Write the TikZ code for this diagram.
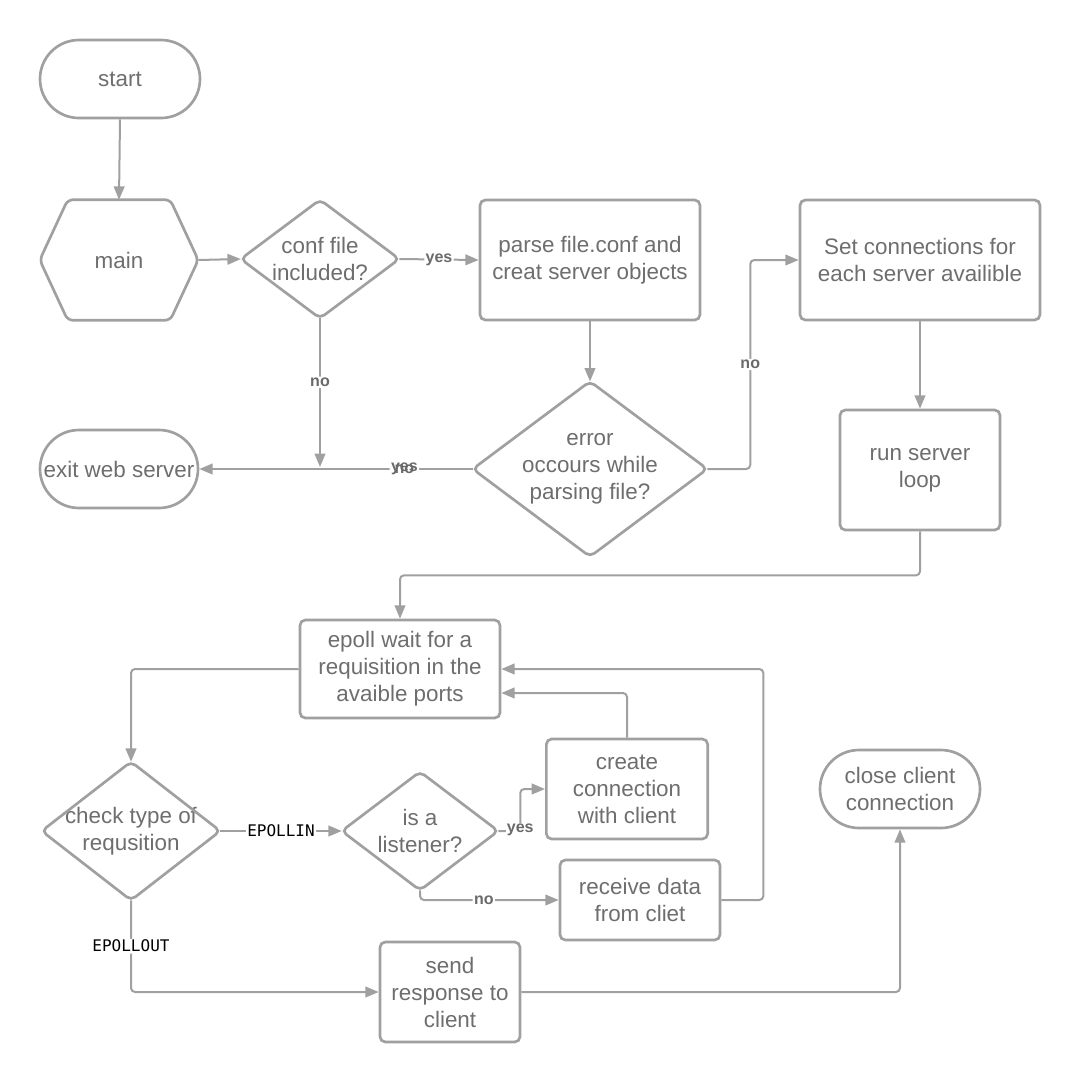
\documentclass[tikz,border=0pt]{standalone}
\usepackage{fontspec}
\setmainfont{Liberation Sans}
\newfontfamily\monof{DejaVu Sans Mono}
\usetikzlibrary{arrows.meta,shapes.misc,calc}
\definecolor{ln}{HTML}{A0A0A0}
\definecolor{tx}{HTML}{6E6E6E}
\definecolor{lb}{HTML}{6A6A6A}
\begin{document}
\begin{tikzpicture}[x=0.75pt,y=-0.75pt,
  every node/.style={font=\fontsize{16.8}{20.25}\selectfont, text=tx, align=center},
  box/.style={draw=ln, line width=2pt, rounded corners=4pt, inner sep=0pt},
  pill/.style={rounded rectangle, draw=ln, line width=2pt, inner sep=0pt},
  base/.style={draw=none, inner sep=0pt},
  shp/.style={draw=ln, line width=2pt, rounded corners=4pt},
  conn/.style={draw=ln, line width=1.5pt, -{Triangle[length=10pt,width=8pt]}, rounded corners=3pt},
  plain/.style={draw=ln, line width=1.5pt, rounded corners=3pt},
  lab/.style={font=\bfseries\fontsize{12}{14}\selectfont, text=lb, fill=white, inner sep=1pt},
  mono/.style={font=\monof\fontsize{12}{14}\selectfont, text=black, fill=white, inner sep=1pt}
]
\fill[white] (0,0) rectangle (1080,1083);
\useasboundingbox (0,0) rectangle (1080,1083);

% nodes
\node[pill, minimum width=120pt, minimum height=58.5pt] (start) at (120,79) {start};
\node[base, minimum width=118.5pt, minimum height=90pt] (main) at (119,260) {main};
\node[base, minimum width=118.5pt, minimum height=88.5pt] (conf) at (320,259) {conf file\\included?};
\node[box, minimum width=165pt, minimum height=90pt] (parse) at (590,260) {parse file.conf and\\creat server objects};
\node[base, minimum width=175.5pt, minimum height=131pt] (error) at (590,469) {error\\occours while\\parsing file?};
\node[box, minimum width=180pt, minimum height=90pt] (set) at (920,260) {Set connections for\\each server availible};
\node[pill, minimum width=118.5pt, minimum height=58.5pt] (exit) at (119,469) {exit web server};
\node[box, minimum width=120pt, minimum height=90pt] (run) at (920,470) {run server\\loop};
\node[box, minimum width=150pt, minimum height=73.5pt] (epoll) at (400,669) {epoll wait for a\\requisition in the\\avaible ports};
\node[base, minimum width=133.5pt, minimum height=103.5pt] (check) at (131,831) {check type of\\requsition};
\node[base, minimum width=117pt, minimum height=88.5pt] (list) at (420,831) {is a\\listener?};
\node[box, minimum width=121pt, minimum height=75pt] (create) at (627,789) {create\\connection\\with client};
\node[box, minimum width=120pt, minimum height=60pt] (recv) at (640,900) {receive data\\from cliet};
\node[pill, minimum width=120pt, minimum height=58.5pt] (close) at (900,789) {close client\\connection};
\node[box, minimum width=105pt, minimum height=75pt] (send) at (450,992) {send\\response to\\client};

% custom outlines
\draw[shp] (main.west) -- ($(main.north west)+(28,0)$) -- ($(main.north east)+(-28,0)$) -- (main.east) -- ($(main.south east)+(-28,0)$) -- ($(main.south west)+(28,0)$) -- cycle;
\foreach \n in {conf,error,check,list}
  \draw[shp] (\n.west) -- (\n.north) -- (\n.east) -- (\n.south) -- cycle;

% connectors
\draw[conn] (start.south) -- (main.north);
\draw[conn] (main.east) -- (conf.west);
\draw[conn] (conf.east) -- node[lab]{yes} (parse.west);
\coordinate (nojoin) at (320,467);
\draw[conn] (conf.south) -- node[lab, pos=0.43]{no} (nojoin);
\draw[conn] (error.west) -- node[lab, pos=0.25]{yes} node[pos=0.25, font=\bfseries\fontsize{12}{14}\selectfont, text=lb, inner sep=1pt]{no} (exit.east);
\draw[conn] (parse.south) -- (error.north);
\draw[conn] (error.east) -- ++(43,0) |- node[lab, pos=0.25]{no} (set.west);
\draw[conn] (set.south) -- (run.north);
\draw[conn] (run.south) -- ++(0,44) -| (epoll.north);
\draw[conn] (epoll.west) -| (check.north);
\draw[conn] (check.east) -- node[mono]{EPOLLIN} (list.west);
\draw[conn] (list.east) -- ++(22,0) |- (create.west);
\node[lab] at ($(list.east)+(22,-1)$) {yes};
\draw[conn] (list.south) |- node[lab, pos=0.73]{no} (recv.west);
\draw[conn] (create.north) |- ($(epoll.east)+(0,24)$);
\draw[conn] (recv.east) -- ++(42,0) |- (epoll.east);
\draw[conn] (check.south) |- node[mono, pos=0.25]{EPOLLOUT} (send.west);
\draw[conn] (send.east) -| (close.south);
\end{tikzpicture}
\end{document}
